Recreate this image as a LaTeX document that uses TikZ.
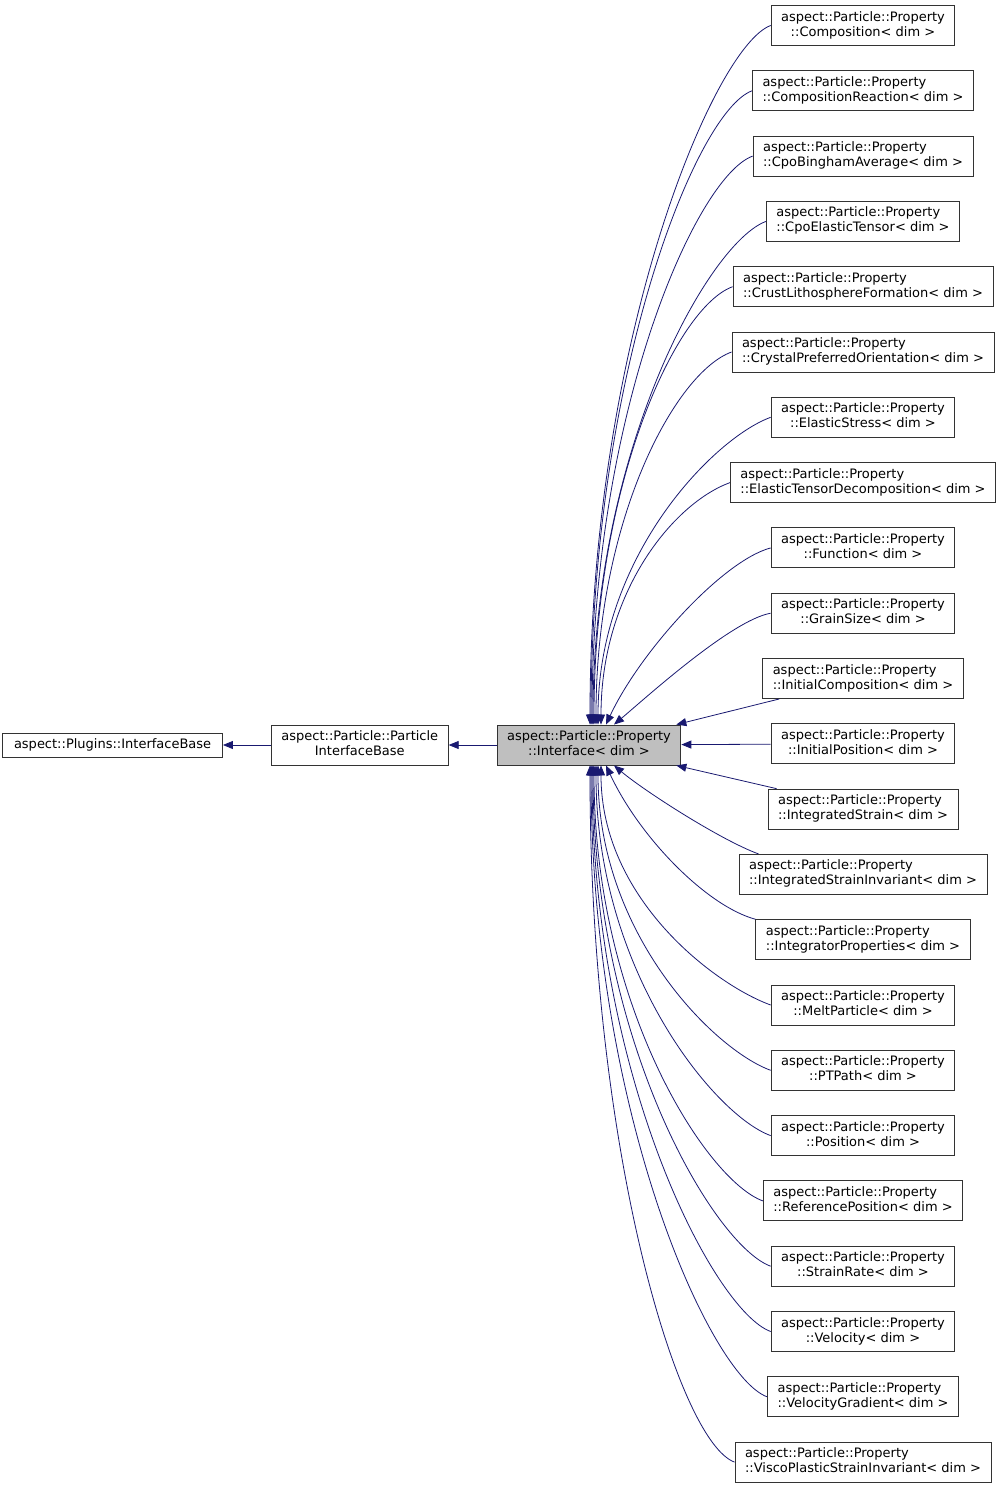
\documentclass[tikz,border=0pt]{standalone}
\usepackage{fontspec}
\setmainfont{DejaVu Sans}
\usetikzlibrary{arrows.meta,positioning}
\definecolor{edgeblue}{HTML}{191970}
% first line flush left, last line centred
\newcommand{\twoline}[2]{\raisebox{-1.2pt}{\begin{tabular}{@{}c@{}}\multicolumn{1}{@{}l@{}}{#1}\\#2\end{tabular}}}

\begin{document}
\begin{tikzpicture}[x=1pt,y=1pt,
    cls/.style={draw=black!80,fill=white,line width=0.9pt,inner xsep=10pt,
      inner ysep=1pt,minimum height=40pt,
      font=\fontsize{13}{15}\selectfont},
    base/.style={cls,minimum height=24pt,inner xsep=11.3pt},
    this/.style={cls,fill=black!25},
    inh/.style={draw=edgeblue,line width=0.8pt,-{Triangle[length=10pt,width=8pt]}}]
    \useasboundingbox (0,0) rectangle (1003,-1489);

    % the class and its bases
    \node[this] (prop) at (589,-745) {\twoline{aspect::Particle::Property}{::Interface< dim >}};
    \node[cls] (pbase) [left=48pt of prop] {\twoline{aspect::Particle::Particle}{InterfaceBase}};
    \node[base] (plugins) [left=48pt of pbase] {aspect::Plugins::InterfaceBase};

    % derived classes
    \foreach \nm/\kind [count=\i] in {
      composition/Composition, compreaction/CompositionReaction,
      cpobingham/CpoBinghamAverage, cpoelastic/CpoElasticTensor,
      crustlitho/CrustLithosphereFormation, crystalpo/CrystalPreferredOrientation,
      elasticstress/ElasticStress, elastictensordec/ElasticTensorDecomposition,
      function/Function, grainsize/GrainSize, initcomp/InitialComposition,
      initpos/InitialPosition, intstrain/IntegratedStrain,
      intstraininv/IntegratedStrainInvariant, integrator/IntegratorProperties,
      melt/MeltParticle, ptpath/PTPath, position/Position,
      refpos/ReferencePosition, strainrate/StrainRate, velocity/Velocity,
      velgrad/VelocityGradient, viscoplastic/ViscoPlasticStrainInvariant}
      \node[cls] (\nm) at (863,{-25.5-(\i-1)*65.3}) {\twoline{aspect::Particle::Property}{::\kind< dim >}};

    \draw[inh] (pbase) -- (plugins);
    \draw[inh] (prop) -- (pbase);

    % far ones above
    \foreach \nm/\dx/\d in {composition/1/385, compreaction/2/349, cpobingham/3/313,
      cpoelastic/4/277, crustlitho/5/241, crystalpo/7/205, elasticstress/9/169,
      elastictensordec/12/133}
      \draw[inh] (\nm.west) to[out=200,in=90,out distance=60pt,in distance=\d pt]
        ([xshift=\dx pt]prop.north);
    % far ones below
    \foreach \nm/\dx/\d in {melt/12/133, ptpath/9/169, position/7/205, refpos/5/241,
      strainrate/4/277, velocity/3/313, velgrad/2/349, viscoplastic/1/385}
      \draw[inh] (\nm.west) to[out=160,in=-90,out distance=60pt,in distance=\d pt]
        ([xshift=\dx pt]prop.south);

    % near ones
    \draw[inh] (function.west) to[out=195,in=65,out distance=50pt,in distance=80pt]
      ([xshift=17pt]prop.north);
    \draw[inh] (grainsize.west) to[out=190,in=40,out distance=40pt,in distance=40pt]
      ([xshift=25pt]prop.north);
    \draw[inh] ([xshift=17pt]initcomp.south west) -- ([xshift=-5pt]prop.north east);
    \draw[inh] (initpos) -- (prop);
    \draw[inh] ([xshift=9pt]intstrain.north west) -- ([xshift=-5pt]prop.south east);
    \draw[inh] ([xshift=20pt]intstraininv.north west) to[out=160,in=-40,out distance=40pt,in distance=40pt]
      ([xshift=25pt]prop.south);
    \draw[inh] (integrator.north west) to[out=165,in=-65,out distance=50pt,in distance=80pt]
      ([xshift=17pt]prop.south);
\end{tikzpicture}
\end{document}
